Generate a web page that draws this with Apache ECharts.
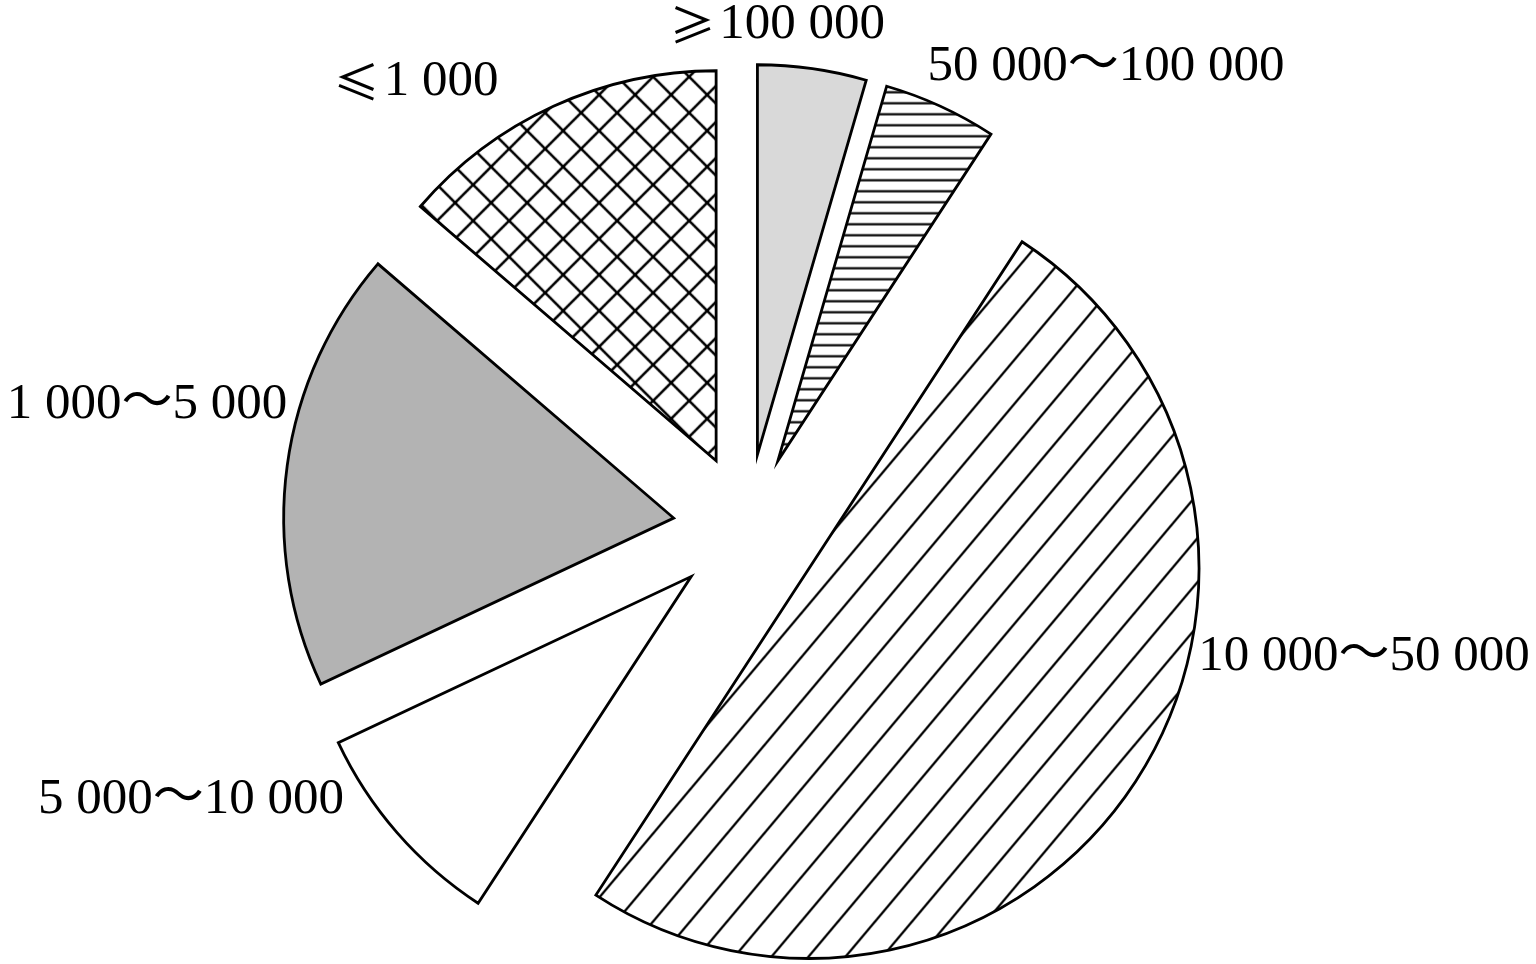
<!DOCTYPE html>
<html><head><meta charset="utf-8">
<script src="https://cdn.jsdelivr.net/npm/echarts@6/dist/echarts.min.js"></script>
<style>html,body{margin:0;padding:0;background:#fff}#c{width:1536px;height:964px}</style>
</head><body><div id="c"></div>
<script>
// ---- data ----
const categories = ['≥100 000', '50 000～100 000', '10 000～50 000', '5 000～10 000', '1 000～5 000', '≤1 000'];
const shares = [4.5, 4.7, 50.0, 8.8, 18.3, 13.7];

// ---- styles ----
const labelAnchors = [[777, 25], [1106, 67], [1364, 657], [191, 800], [147, 405], [416, 82]];

function makeTile(w, h, draw) {
  const c = document.createElement('canvas');
  c.width = w; c.height = h;
  const g = c.getContext('2d');
  g.fillStyle = '#fff'; g.fillRect(0, 0, w, h);
  g.strokeStyle = '#000'; g.lineCap = 'butt';
  draw(g, w, h);
  return c;
}
const hLines = makeTile(20, 11, (g, w, h) => {
  g.lineWidth = 2.2;
  g.beginPath(); g.moveTo(0, 5.5); g.lineTo(w, 5.5); g.stroke();
});
const diag = makeTile(37, 44, (g, w, h) => {
  g.lineWidth = 2.3;
  for (let k = -1; k <= 1; k++) {
    g.beginPath(); g.moveTo(k * w - w, 2 * h); g.lineTo(k * w + 2 * w, -h); g.stroke();
  }
});
const cross = makeTile(36, 36, (g, w, h) => {
  g.lineWidth = 2.6;
  for (let k = -1; k <= 1; k++) {
    g.beginPath(); g.moveTo(k * w - w, -h); g.lineTo(k * w + 2 * w, 2 * h); g.stroke();
    g.beginPath(); g.moveTo(k * w - w, 2 * h); g.lineTo(k * w + 2 * w, -h); g.stroke();
  }
});
const fills = [
  '#d9d9d9',
  { image: hLines, repeat: 'repeat' },
  { image: diag, repeat: 'repeat' },
  '#ffffff',
  '#b3b3b3',
  { image: cross, repeat: 'repeat' }
];

const fontMain = "'Liberation Serif', 'Times New Roman', 'Noto Sans CJK SC', serif";
const pieCenter = [747, 528];
const pieRadius = 390;

const chart = echarts.init(document.getElementById('c'), null, { renderer: 'canvas' });
chart.setOption({
  animation: false,
  backgroundColor: '#fff',
  series: [{
    // exploded slices
    type: 'pie',
    center: pieCenter,
    radius: pieRadius,
    startAngle: 90,
    clockwise: true,
    avoidLabelOverlap: false,
    selectedMode: 'multiple',
    selectedOffset: 74,
    emphasis: { disabled: true },
    itemStyle: { borderColor: '#000', borderWidth: 2.8, borderJoin: 'miter', borderMiterLimit: 30 },
    label: { show: false },
    labelLine: { show: false },
    data: categories.map((c, i) => ({
      name: c,
      value: shares[i],
      selected: true,
      itemStyle: { color: fills[i] }
    }))
  }, {
    // labels
    type: 'pie',
    center: pieCenter,
    radius: pieRadius,
    startAngle: 90,
    clockwise: true,
    silent: true,
    avoidLabelOverlap: false,
    emphasis: { disabled: true },
    itemStyle: { color: 'rgba(0,0,0,0)', borderWidth: 0 },
    label: {
      show: true,
      position: 'outside',
      color: '#000',
      fontFamily: fontMain,
      fontSize: 51,
      formatter: p => {
        const n = p.name;
        if (n[0] === '≥' || n[0] === '≤') return '{s|' + n[0] + '}{t|' + n.slice(1) + '}';
        return '{t|' + n + '}';
      },
      rich: {
        s: { fontFamily: "'Noto Sans CJK SC', 'DejaVu Sans'", fontSize: 46, color: '#000', padding: [0, 4, 0, 0] },
        t: { fontFamily: fontMain, fontSize: 51, color: '#000' }
      }
    },
    labelLine: { show: false },
    labelLayout: p => {
      const a = labelAnchors[p.dataIndex];
      return { x: a[0], y: a[1], align: 'center', verticalAlign: 'middle' };
    },
    data: categories.map((c, i) => ({ name: c, value: shares[i] }))
  }]
});
</script>
</body></html>
